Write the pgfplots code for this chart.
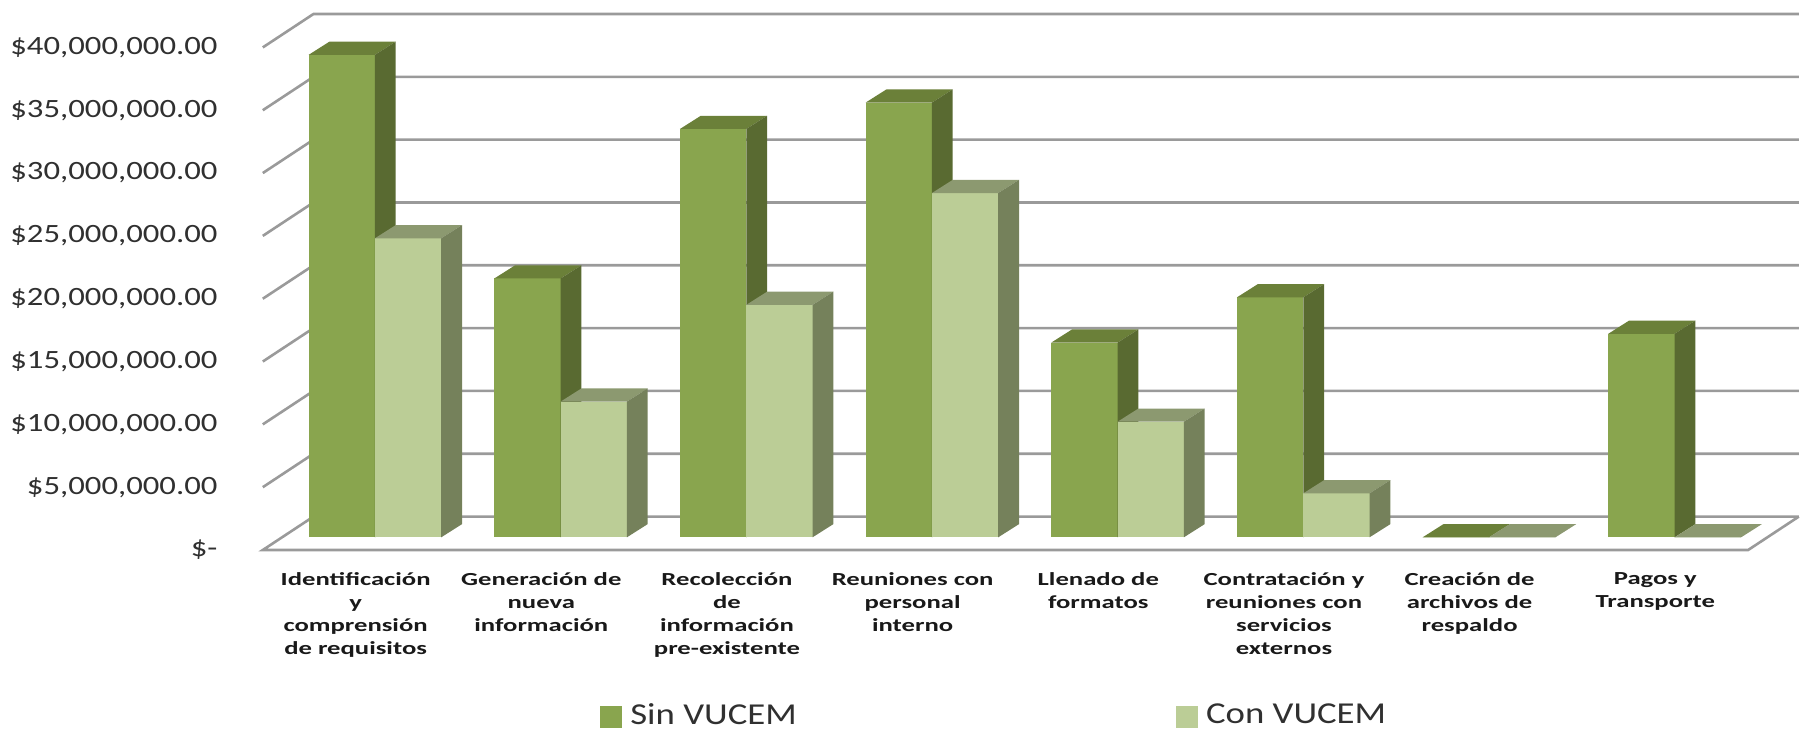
\documentclass[border=0pt]{standalone}
\usepackage{pgfplots}
\pgfplotsset{compat=1.18}
\usepackage{pgfplotstable}
\usepackage{fontspec}
\setmainfont{Carlito}
\newfontfamily\tickfont{Carlito}[FakeStretch=1.24]
\newfontfamily\catfont{Carlito}[FakeStretch=1.45]
\newfontfamily\legfont{Carlito}[FakeStretch=1.21]

\definecolor{sinfront}{HTML}{89A54E}
\definecolor{sintop}{HTML}{6B8039}
\definecolor{sinside}{HTML}{596A31}
\definecolor{confront}{HTML}{BBCD96}
\definecolor{contop}{HTML}{8C9970}
\definecolor{conside}{HTML}{75815B}
\definecolor{gridgray}{HTML}{9A9A9A}
\definecolor{txtgray}{HTML}{303030}

% values in millions of pesos
\pgfplotstableread{
cat sin con
1 38.4 23.8
2 20.6 10.8
3 32.5 18.5
4 34.6 27.4
5 15.5 9.2
6 19.1 3.5
7 0 0
8 16.2 0
}\datatable

\def\ddx{0.112}
\def\ddy{1.05}
\def\bw{0.357}

\newcommand\cuboid[6]{%
 \pgfmathsetmacro\xa{#1}%
 \pgfmathsetmacro\xb{#2}%
 \pgfmathsetmacro\xc{#1+\ddx}%
 \pgfmathsetmacro\xd{#2+\ddx}%
 \pgfmathsetmacro\yv{#3}%
 \pgfmathsetmacro\yw{#3+\ddy}%
 \edef\tmp{%
  \noexpand\addplot[fill=#4,draw=none,forget plot] coordinates {(\xa,0) (\xb,0) (\xb,\yv) (\xa,\yv)} -- cycle;
  \noexpand\addplot[fill=#5,draw=none,forget plot] coordinates {(\xa,\yv) (\xb,\yv) (\xd,\yw) (\xc,\yw)} -- cycle;
  \noexpand\addplot[fill=#6,draw=none,forget plot] coordinates {(\xb,0) (\xd,\ddy) (\xd,\yw) (\xb,\yv)} -- cycle;
 }\tmp}

\begin{document}
\begin{tikzpicture}
\path[use as bounding box] (0,0) rectangle (452pt,182.5pt);
\begin{axis}[
 at={(65.7pt,45pt)}, anchor=south west,
 width=384pt, height=134pt, scale only axis,
 xmin=0.396, xmax=8.669, ymin=-1.01, ymax=41.65,
 clip=false,
 axis line style={draw=none},
 major tick length=0pt,
 ytick={-1.01,3.99,8.99,13.99,18.99,23.99,28.99,33.99,38.99},
 yticklabels={{\$-\hspace{2.7pt}},{\$5,000,000.00},{\$10,000,000.00},{\$15,000,000.00},{\$20,000,000.00},{\$25,000,000.00},{\$30,000,000.00},{\$35,000,000.00},{\$40,000,000.00}},
 yticklabel style={font=\tickfont\fontsize{6.6}{8}\selectfont, text=txtgray, anchor=east, xshift=-7.8pt},
 xtick={0.896,1.896,2.896,3.896,4.896,5.896,6.896,7.896},
 xticklabels={{Identificación\\y\\comprensión\\de requisitos},{Generación de\\nueva\\información},{Recolección\\de\\información\\pre-existente},{Reuniones con\\personal\\interno},{Llenado de\\formatos},{Contratación y\\reuniones con\\servicios\\externos},{Creación de\\archivos de\\respaldo},{Pagos y\\Transporte}},
 xticklabel style={font=\catfont\bfseries\fontsize{4.6}{5.8}\selectfont, align=center, anchor=north, yshift=-2pt, text=black!90},
 legend columns=2,
 legend style={at={(axis description cs:0.2195,-0.3116)}, anchor=west, draw=none, fill=none, inner sep=0pt, outer sep=0pt,
   font=\legfont\fontsize{7.6}{9}\selectfont, text=txtgray,
   /tikz/every even column/.append style={column sep=92.7pt}},
]
% walls: floor and grid lines
\addplot[gridgray, line width=0.65pt, forget plot] coordinates {(8.669,1.65) (0.669,1.65) (0.396,-1.01) (8.396,-1.01) (8.669,1.65)};
\addplot[gridgray, line width=0.65pt, forget plot] coordinates {(0.396,3.99) (0.669,6.65) (8.669,6.65)};
\addplot[gridgray, line width=0.65pt, forget plot] coordinates {(0.396,8.99) (0.669,11.65) (8.669,11.65)};
\addplot[gridgray, line width=0.65pt, forget plot] coordinates {(0.396,13.99) (0.669,16.65) (8.669,16.65)};
\addplot[gridgray, line width=0.65pt, forget plot] coordinates {(0.396,18.99) (0.669,21.65) (8.669,21.65)};
\addplot[gridgray, line width=0.65pt, forget plot] coordinates {(0.396,23.99) (0.669,26.65) (8.669,26.65)};
\addplot[gridgray, line width=0.65pt, forget plot] coordinates {(0.396,28.99) (0.669,31.65) (8.669,31.65)};
\addplot[gridgray, line width=0.65pt, forget plot] coordinates {(0.396,33.99) (0.669,36.65) (8.669,36.65)};
\addplot[gridgray, line width=0.65pt, forget plot] coordinates {(0.396,38.99) (0.669,41.65) (8.669,41.65)};
% bars
\pgfplotsinvokeforeach{0,...,7}{%
  \pgfplotstablegetelem{#1}{sin}\of\datatable \let\vsin\pgfplotsretval
  \pgfplotstablegetelem{#1}{con}\of\datatable \let\vcon\pgfplotsretval
  \cuboid{#1+1-\bw}{#1+1}{\vsin}{sinfront}{sintop}{sinside}
  \cuboid{#1+1}{#1+1+\bw}{\vcon}{confront}{contop}{conside}
}
\addlegendimage{legend image code/.code={\fill[sinfront] (0pt,-2.6pt) rectangle (5.2pt,2.6pt);}}
\addlegendentry{Sin VUCEM}
\addlegendimage{legend image code/.code={\fill[confront] (0pt,-2.6pt) rectangle (5.2pt,2.6pt);}}
\addlegendentry{Con VUCEM}
\end{axis}
\end{tikzpicture}
\end{document}
